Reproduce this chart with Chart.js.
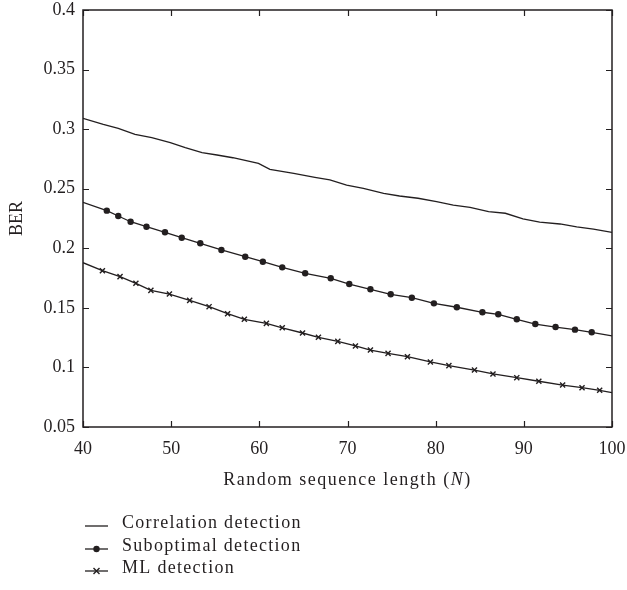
<!DOCTYPE html>
<html>
<head>
<meta charset="utf-8">
<script src="https://cdn.jsdelivr.net/npm/chart.js@4/dist/chart.umd.min.js"></script>
<style>
  html, body { margin: 0; padding: 0; background: #fff; }
  #wrap { width: 627px; height: 590px; }
</style>
</head>
<body>
<div id="wrap"><canvas id="berChart" width="627" height="590"></canvas></div>
<script>
// values
const corrN   = [40, 42.3, 44, 45.9, 47.8, 49.9, 51.6, 53.5, 55.2, 57, 59.9, 61.2, 63.9, 66.3, 68, 69.9, 71.8, 74.1, 75.9, 78, 80.1, 82, 83.9, 86, 87.9, 89.9, 91.8, 94.1, 96, 97.9, 100];
const corrBER = [0.309, 0.304, 0.3007, 0.2957, 0.2928, 0.2886, 0.2844, 0.2802, 0.2783, 0.276, 0.2713, 0.2663, 0.2629, 0.2596, 0.2575, 0.2531, 0.2503, 0.2461, 0.2439, 0.242, 0.2391, 0.2363, 0.2344, 0.2307, 0.2294, 0.2246, 0.222, 0.2204, 0.218, 0.216, 0.2134];

const subN   = [40, 42.7, 44, 45.4, 47.2, 49.3, 51.2, 53.3, 55.7, 58.4, 60.4, 62.6, 65.2, 68.1, 70.2, 72.6, 74.9, 77.3, 79.8, 82.4, 85.3, 87.1, 89.2, 91.3, 93.6, 95.8, 97.7, 100];
const subBER = [0.2386, 0.2316, 0.2271, 0.2223, 0.2181, 0.2134, 0.2089, 0.2042, 0.1986, 0.1929, 0.1887, 0.184, 0.179, 0.1748, 0.170, 0.1656, 0.1614, 0.1585, 0.1538, 0.1505, 0.1463, 0.1446, 0.1404, 0.1364, 0.1339, 0.1317, 0.1295, 0.1264];

const mlN   = [40, 42.2, 44.2, 46, 47.7, 49.8, 52.1, 54.3, 56.4, 58.3, 60.8, 62.6, 64.9, 66.7, 68.9, 70.9, 72.6, 74.6, 76.8, 79.4, 81.5, 84.4, 86.5, 89.2, 91.7, 94.4, 96.6, 98.6, 100];
const mlBER = [0.1879, 0.1812, 0.1762, 0.1706, 0.1647, 0.1616, 0.1563, 0.151, 0.1451, 0.1404, 0.137, 0.1333, 0.1289, 0.1253, 0.1219, 0.118, 0.1146, 0.1118, 0.109, 0.1046, 0.1015, 0.0978, 0.0945, 0.0914, 0.0884, 0.0852, 0.083, 0.0808, 0.0788];

const seriesLabels = ['Correlation detection', 'Suboptimal detection', 'ML detection'];
const xTicks = [40, 50, 60, 70, 80, 90, 100];
const yTicks = [0.05, 0.1, 0.15, 0.2, 0.25, 0.3, 0.35, 0.4];

const INK = '#231f20';
const FONT = "'Liberation Serif', 'DejaVu Serif', serif";

const toXY = (xs, ys) => xs.map((x, i) => ({ x, y: ys[i] }));
// no marker on the first and last point of each curve
const innerRadius = (n, r) => Array.from({ length: n }, (_, i) => (i === 0 || i === n - 1) ? 0 : r);

// frame + inward ticks on all four sides, x title with italic N, legend underneath
const framePlugin = {
  id: 'frame',
  afterDatasetsDraw(chart) {
    const { ctx, chartArea: a, scales } = chart;
    ctx.save();
    ctx.strokeStyle = INK;
    ctx.lineWidth = 1.5;
    ctx.strokeRect(a.left, a.top, a.right - a.left, a.bottom - a.top);
    ctx.lineWidth = 1.2;
    const len = 6;
    ctx.beginPath();
    xTicks.forEach(v => {
      const px = Math.round(scales.x.getPixelForValue(v)) + 0.5;
      ctx.moveTo(px, a.bottom); ctx.lineTo(px, a.bottom - len);
      ctx.moveTo(px, a.top);    ctx.lineTo(px, a.top + len);
    });
    yTicks.forEach(v => {
      const py = Math.round(scales.y.getPixelForValue(v)) + 0.5;
      ctx.moveTo(a.left, py);  ctx.lineTo(a.left + len, py);
      ctx.moveTo(a.right, py); ctx.lineTo(a.right - len, py);
    });
    ctx.stroke();
    ctx.restore();
  },
  afterDraw(chart) {
    const { ctx, chartArea: a } = chart;
    ctx.save();
    ctx.fillStyle = INK;
    ctx.textBaseline = 'middle';

    // x axis title
    ctx.letterSpacing = '1.5px';
    const parts = [['Random sequence length (', ''], ['N', 'italic '], [')', '']];
    let total = 0;
    parts.forEach(p => { ctx.font = p[1] + '18px ' + FONT; total += ctx.measureText(p[0]).width; });
    let tx = (a.left + a.right) / 2 - total / 2;
    parts.forEach(p => {
      ctx.font = p[1] + '18px ' + FONT;
      ctx.fillText(p[0], tx, 480);
      tx += ctx.measureText(p[0]).width;
    });

    // legend
    ctx.letterSpacing = '1.3px';
    const rows = [523, 546, 568];
    ctx.font = '18px ' + FONT;
    chart.data.datasets.forEach((ds, i) => {
      const y = rows[i] + 3;
      ctx.strokeStyle = INK;
      ctx.lineWidth = 1.3;
      ctx.beginPath();
      ctx.moveTo(85, y); ctx.lineTo(108, y);
      ctx.stroke();
      if (ds.pointStyle === 'circle') {
        ctx.beginPath();
        ctx.arc(96.5, y, 3.2, 0, Math.PI * 2);
        ctx.fill();
      } else if (ds.pointStyle === 'crossRot') {
        ctx.lineWidth = 1.4;
        ctx.beginPath();
        ctx.moveTo(93.5, y - 3); ctx.lineTo(99.5, y + 3);
        ctx.moveTo(99.5, y - 3); ctx.lineTo(93.5, y + 3);
        ctx.stroke();
      }
      ctx.fillText(ds.label, 122, rows[i]);
    });
    ctx.restore();
  }
};

const ctx = document.getElementById('berChart').getContext('2d');
new Chart(ctx, {
  type: 'line',
  data: {
    datasets: [
      { label: seriesLabels[0], data: toXY(corrN, corrBER), borderColor: INK, borderWidth: 1.3,
        pointRadius: 0, pointStyle: false, tension: 0, fill: false },
      { label: seriesLabels[1], data: toXY(subN, subBER), borderColor: INK, borderWidth: 1.3,
        pointStyle: 'circle', pointRadius: innerRadius(subN.length, 3.2), pointBackgroundColor: INK,
        pointBorderColor: INK, pointBorderWidth: 0, tension: 0, fill: false },
      { label: seriesLabels[2], data: toXY(mlN, mlBER), borderColor: INK, borderWidth: 1.3,
        pointStyle: 'crossRot', pointRadius: innerRadius(mlN.length, 3.6), pointBorderColor: INK,
        pointBorderWidth: 1.4, tension: 0, fill: false }
    ]
  },
  options: {
    responsive: false,
    animation: false,
    layout: { padding: { top: 10, right: 15, bottom: 93, left: 0 } },
    plugins: { legend: { display: false }, tooltip: { enabled: false } },
    scales: {
      x: {
        type: 'linear', min: 40, max: 100,
        afterBuildTicks: s => { s.ticks = xTicks.map(v => ({ value: v })); },
        afterFit: s => { s.height = 70; s.paddingLeft = 0; s.paddingRight = 0; },
        grid: { display: false, drawTicks: false },
        border: { display: false },
        ticks: { color: INK, font: { family: FONT, size: 18 }, padding: 11, maxRotation: 0 },
        title: { display: false }
      },
      y: {
        type: 'linear', min: 0.05, max: 0.4,
        afterBuildTicks: s => { s.ticks = yTicks.map(v => ({ value: v })); },
        afterFit: s => { s.width = 83; s.paddingTop = 0; s.paddingBottom = 0; },
        grid: { display: false, drawTicks: false },
        border: { display: false },
        ticks: { color: INK, font: { family: FONT, size: 18 }, padding: 8,
          callback: v => String(Number(v.toFixed(2))) },
        title: { display: true, color: INK, font: { family: FONT, size: 18 },
          text: 'BER', padding: { top: 6, bottom: 0 } }
      }
    }
  },
  plugins: [framePlugin]
});
</script>
</body>
</html>
